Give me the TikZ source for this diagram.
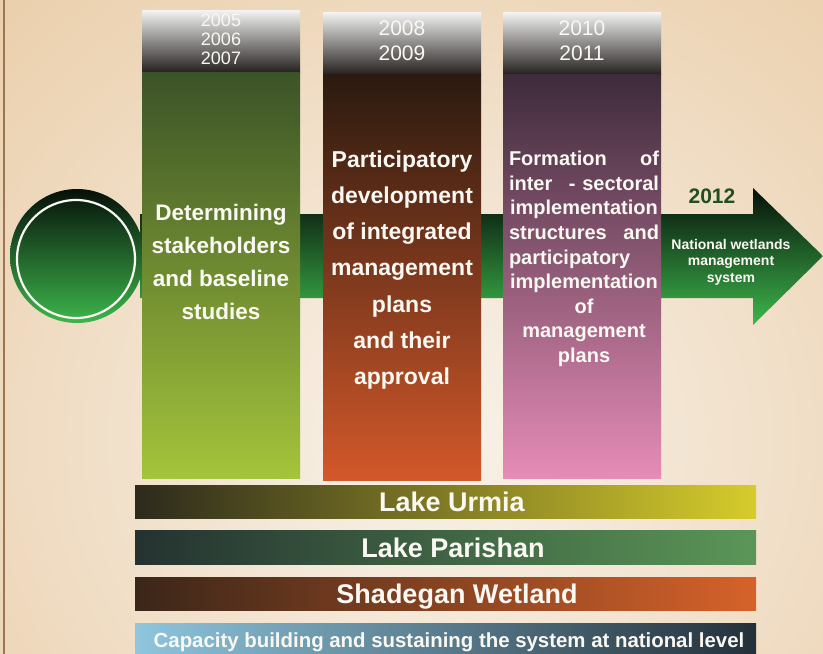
\documentclass[tikz,border=0pt]{standalone}
\usepackage{fontspec}
\setmainfont{Liberation Sans}
\usepackage{xcolor}
\definecolor{bgcream}{HTML}{F8F2EA}
\definecolor{bgtan}{HTML}{E6C396}
\definecolor{bgline}{HTML}{9C7650}
\definecolor{arrowdark}{HTML}{06100A}
\definecolor{arrowgreen}{HTML}{3DB64B}
\definecolor{headlight}{HTML}{F4F4F4}
\definecolor{headdark}{HTML}{262220}
\definecolor{greentop}{HTML}{3B5327}
\definecolor{greenbot}{HTML}{A4C43B}
\definecolor{browntop}{HTML}{2A1A10}
\definecolor{brownbot}{HTML}{D3582A}
\definecolor{pinktop}{HTML}{3D2B3A}
\definecolor{pinkbot}{HTML}{E68CB6}
\definecolor{urmialeft}{HTML}{2C2A1C}
\definecolor{urmiamid}{HTML}{857C34}
\definecolor{urmiaright}{HTML}{D6CC2C}
\definecolor{parishanleft}{HTML}{243230}
\definecolor{parishanmid}{HTML}{3A5A40}
\definecolor{parishanright}{HTML}{5B9657}
\definecolor{shadeganleft}{HTML}{3B2619}
\definecolor{shadeganmid}{HTML}{8A4A28}
\definecolor{shadeganright}{HTML}{D6622A}
\definecolor{capleft}{HTML}{8EC6DE}
\definecolor{capmid}{HTML}{4E7A90}
\definecolor{capright}{HTML}{233039}
\definecolor{yeargreen}{HTML}{1F4F22}
\definecolor{textwhite}{HTML}{FAF8F2}

\tikzset{
	colhead/.style={top color=headlight, bottom color=headdark},
	yeartext/.style={text=textwhite, inner sep=0, align=center},
	steptext/.style={text=textwhite, inner sep=0, align=center},
	bartext/.style={text=textwhite, inner sep=0, anchor=base, font=\bfseries\fontsize{27}{27}\selectfont},
}

\begin{document}
\begin{tikzpicture}[x=1pt, y=-1pt]
		\useasboundingbox (0,0) rectangle (823,654);
		\begin{scope}
			\clip (0,0) rectangle (823,654);
			\shade[inner color=bgcream, outer color=bgtan] (-420,-380) rectangle (1300,1260);
		\end{scope}
		\draw[color=bgline, line width=1.6pt] (4,0) -- (4,654);
		\shade[top color=arrowdark, bottom color=arrowgreen] (140,214) -- (753,214) -- (753,188) -- (823,256) -- (753,325) -- (753,298) -- (140,298) -- cycle;
		\shade[top color=arrowdark, bottom color=arrowgreen] (77,256) circle (67pt);
		\draw[color=textwhite, line width=2.2pt] (76,259) circle (59pt);
		\shade[colhead] (142,10) rectangle (300,72);
		\shade[top color=greentop, bottom color=greenbot] (142,72) rectangle (300,478);
		\shade[colhead] (323,12) rectangle (481,74);
		\shade[top color=browntop, bottom color=brownbot] (323,74) rectangle (481,480);
		\shade[colhead] (503,12) rectangle (661,74);
		\shade[top color=pinktop, bottom color=pinkbot] (503,74) rectangle (661,478);
		\shade[left color=urmialeft, middle color=urmiamid, right color=urmiaright] (135,485) rectangle (756,518);
		\shade[left color=parishanleft, middle color=parishanmid, right color=parishanright] (135,530) rectangle (756,564);
		\shade[left color=shadeganleft, middle color=shadeganmid, right color=shadeganright] (135,577) rectangle (756,610);
		\shade[left color=capleft, middle color=capmid, right color=capright] (135,623) rectangle (756,660);
		\node[yeartext, font=\fontsize{18}{19}\selectfont] (years1) at (221,39) {2005\\2006\\2007};
		\node[yeartext, font=\fontsize{21}{25}\selectfont] (years2) at (402,41) {2008\\2009};
		\node[yeartext, font=\fontsize{21}{25}\selectfont] (years3) at (582,41) {2010\\2011};
		\node[steptext, font=\bfseries\fontsize{22.5}{33.3}\selectfont] (step1) at (221,262) {Determining\\stakeholders\\and baseline\\studies};
		\node[steptext, font=\bfseries\fontsize{23}{36.3}\selectfont] (step2) at (402,270) {Participatory\\development\\of integrated\\management\\plans\\and their\\approval};
		\node[steptext, text width=150pt, font=\bfseries\fontsize{20}{24.6}\selectfont] (step3) at (584,259) {\makebox[150pt]{Formation\hfill of}\\\makebox[150pt]{inter\hfill - sectoral}\\implementation\\\makebox[150pt]{structures\hfill and}\\\makebox[150pt][l]{participatory}\\implementation\\of\\management\\plans};
		\node[text=yeargreen, inner sep=0, font=\bfseries\fontsize{21}{21}\selectfont] (year2012) at (712,196) {2012};
		\node[steptext, font=\bfseries\fontsize{14}{16.5}\selectfont] (goal) at (731,262) {National wetlands\\management\\system};
		\node[bartext] (urmia) at (452,511) {Lake Urmia};
		\node[bartext] (parishan) at (453,557) {Lake Parishan};
		\node[bartext] (shadegan) at (457,603) {Shadegan Wetland};
		\node[bartext, font=\bfseries\fontsize{20.4}{20.4}\selectfont] (capacity) at (449,647) {Capacity building and sustaining the system at national level};
	\end{tikzpicture}
\end{document}
